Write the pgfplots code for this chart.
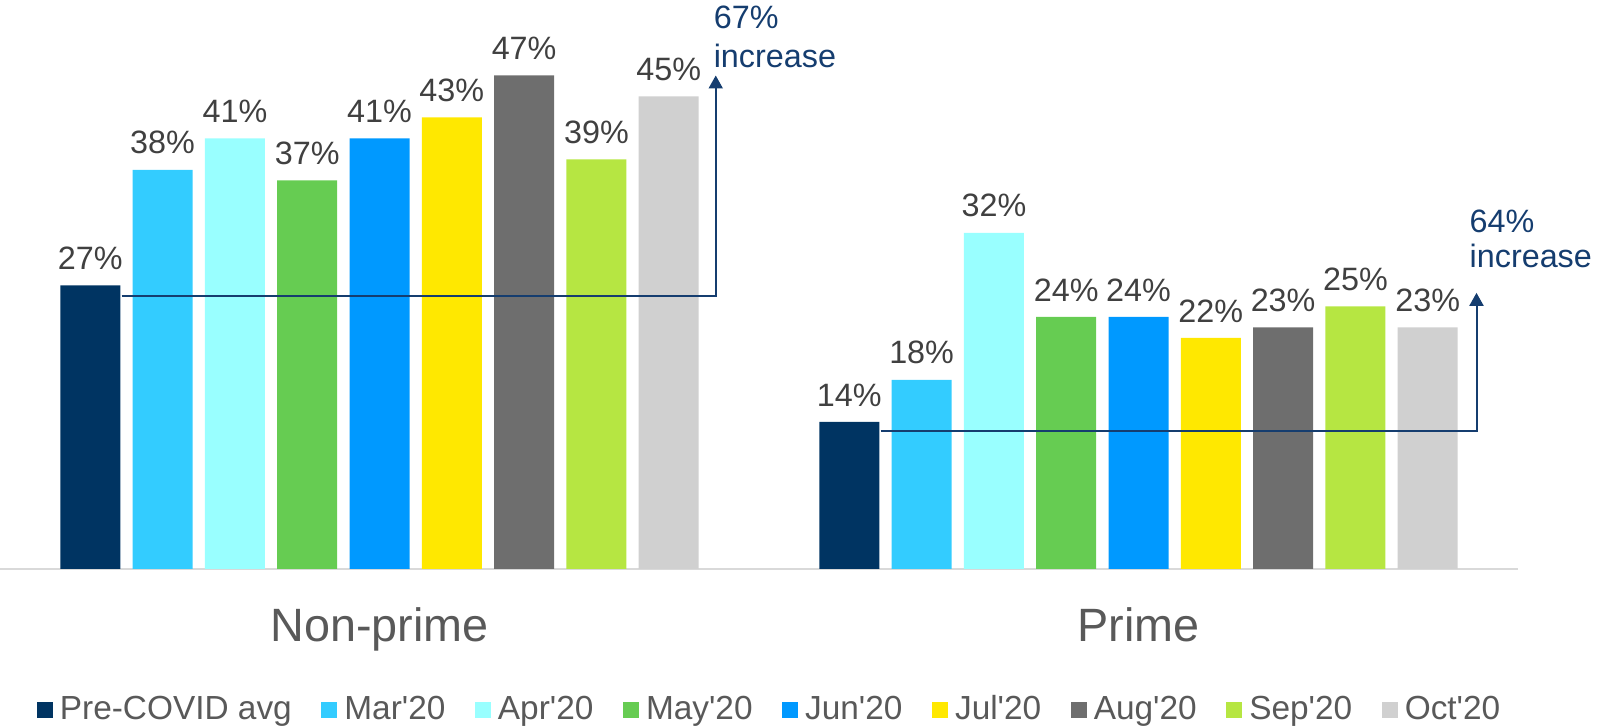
\documentclass[border=0pt]{standalone}
\usepackage{pgfplots}
\pgfplotsset{compat=1.18}
\usepackage{fontspec}
\setmainfont{Liberation Sans}
\usetikzlibrary{arrows.meta}

\definecolor{cPre}{HTML}{003462}
\definecolor{cMar}{HTML}{33CCFF}
\definecolor{cApr}{HTML}{99FFFF}
\definecolor{cMay}{HTML}{66CC52}
\definecolor{cJun}{HTML}{0099FF}
\definecolor{cJul}{HTML}{FFE800}
\definecolor{cAug}{HTML}{6E6E6E}
\definecolor{cSep}{HTML}{B6E642}
\definecolor{cOct}{HTML}{D0D0D0}
\definecolor{navy}{HTML}{153D6F}
\definecolor{lbl}{HTML}{404040}
\definecolor{txt}{HTML}{595959}

\newcommand{\q}{\textquotesingle}
\pgfplotsset{sq/.style={fill=#1, draw=none,
    legend image code/.code={\fill[#1] (0mm,-0.8mm) rectangle (1.6mm,0.8mm);}}}

\begin{document}
\begin{tikzpicture}
  \useasboundingbox (0,0) rectangle (16cm,7.28cm);
  \begin{axis}[
      at={(0,1.59cm)}, anchor=south west,
      scale only axis, width=15.18cm, height=5.25cm,
      ybar=1.23mm, bar width=6mm,
      xmin=-0.5, xmax=1.5, ymin=0, ymax=50,
      enlarge x limits=false,
      xtick={0,1}, xticklabels={Non-prime,Prime},
      ytick=\empty,
      major tick length=0pt,
      axis x line*=bottom, axis y line=none,
      x axis line style={draw=black!15, line width=0.2mm},
      xticklabel style={font=\fontsize{13.3}{15}\selectfont, text=txt, anchor=base, yshift=-7.3mm},
      clip=false,
      /pgf/number format/assume math mode=true,
      nodes near coords={\pgfmathprintnumber[fixed,precision=0]{\pgfplotspointmeta}\%},
      nodes near coords style={font=\fontsize{9.2}{11}\selectfont, text=lbl, anchor=south, inner sep=0pt, yshift=1.5mm},
      legend columns=9,
      legend cell align=left,
      legend style={draw=none, fill=none, inner sep=0pt,
        font=\fontsize{9.5}{11}\selectfont, text=txt,
        at={(0.5086,-0.2695)}, anchor=center,
        /tikz/every even column/.append style={column sep=2.25mm}},
    ]
    \addplot[sq=cPre] coordinates {(0,27) (1,14)};
    \addplot[sq=cMar] coordinates {(0,38) (1,18)};
    \addplot[sq=cApr] coordinates {(0,41) (1,32)};
    \addplot[sq=cMay] coordinates {(0,37) (1,24)};
    \addplot[sq=cJun] coordinates {(0,41) (1,24)};
    \addplot[sq=cJul] coordinates {(0,43) (1,22)};
    \addplot[sq=cAug] coordinates {(0,47) (1,23)};
    \addplot[sq=cSep] coordinates {(0,39) (1,25)};
    \addplot[sq=cOct] coordinates {(0,45) (1,23)};
    \legend{Pre-COVID avg, Mar\q20, Apr\q20, May\q20, Jun\q20, Jul\q20, Aug\q20, Sep\q20, Oct\q20}

    % increase arrows
    \draw[navy, line width=0.2mm, -{Triangle[width=1.4mm,length=1.3mm]}]
      (axis cs:-0.3397,26) -| (axis cs:0.4430,47);
    \draw[navy, line width=0.2mm, -{Triangle[width=1.4mm,length=1.3mm]}]
      (axis cs:0.6603,13.1) -| (axis cs:1.4453,26.3);
    \node[font=\fontsize{9.2}{11}\selectfont, text=navy, anchor=base west, inner sep=0pt] at (axis cs:0.4395,51.5) {67\%};
    \node[font=\fontsize{9.2}{11}\selectfont, text=navy, anchor=base west, inner sep=0pt] at (axis cs:0.4395,47.8) {increase};
    \node[font=\fontsize{9.2}{11}\selectfont, text=navy, anchor=base west, inner sep=0pt] at (axis cs:1.4354,32.0) {64\%};
    \node[font=\fontsize{9.2}{11}\selectfont, text=navy, anchor=base west, inner sep=0pt] at (axis cs:1.4354,28.7) {increase};
  \end{axis}
\end{tikzpicture}
\end{document}
